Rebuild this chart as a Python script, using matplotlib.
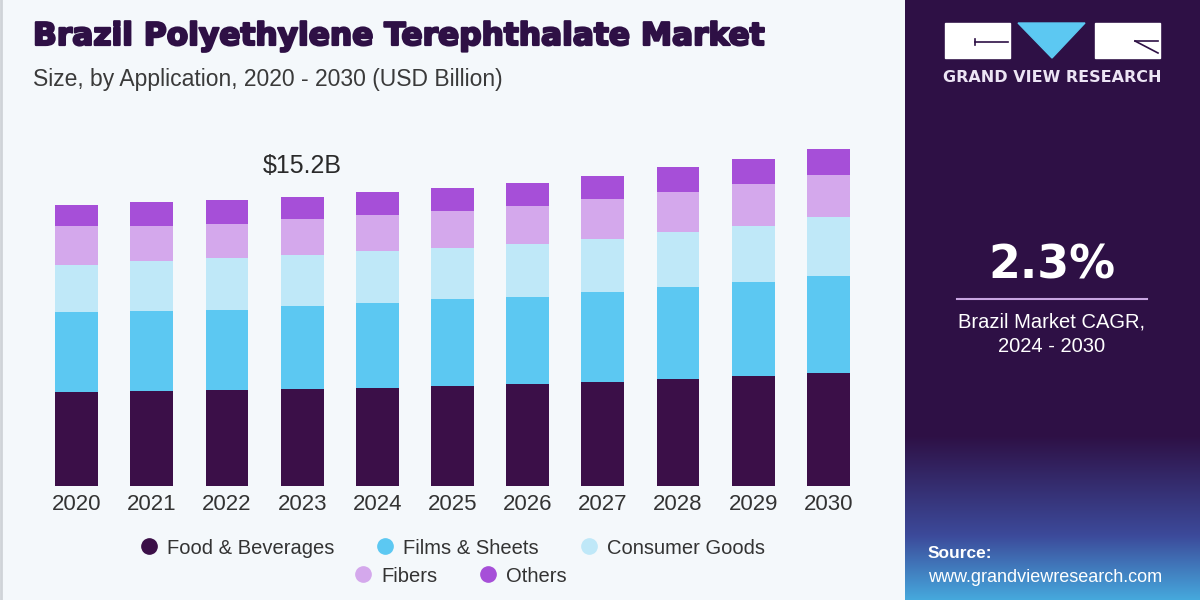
import numpy as np
import matplotlib
matplotlib.use("Agg")
import matplotlib.pyplot as plt
import matplotlib.patheffects as pe
from matplotlib.patches import Rectangle, Polygon
from matplotlib.lines import Line2D

# data (USD Billion)
years = ["2020", "2021", "2022", "2023", "2024", "2025",
         "2026", "2027", "2028", "2029", "2030"]
food = [4.94, 5.00, 5.05, 5.10, 5.16, 5.26, 5.37, 5.47, 5.63, 5.79, 5.94]
films = [4.21, 4.21, 4.21, 4.37, 4.47, 4.58, 4.58, 4.73, 4.84, 4.94, 5.10]
consumer = [2.47, 2.63, 2.74, 2.68, 2.74, 2.68, 2.79, 2.79, 2.89, 2.95, 3.10]
fibers = [2.05, 1.84, 1.79, 1.89, 1.89, 1.95, 2.00, 2.10, 2.10, 2.21, 2.21]
others = [1.10, 1.26, 1.26, 1.16, 1.21, 1.21, 1.21, 1.21, 1.32, 1.32, 1.37]
segments = ["Food & Beverages", "Films & Sheets", "Consumer Goods", "Fibers", "Others"]
colors = ["#3b0f48", "#5cc8f2", "#bfe8f8", "#d4a8ec", "#a64fd8"]
label_year = 3  # 2023
cagr = "2.3%"

plt.rcParams["font.family"] = ["Liberation Sans", "DejaVu Sans"]

fig = plt.figure(figsize=(12, 6), dpi=100)
fig.patch.set_facecolor("#f4f8fb")

# decoration layer in pixel coords
bg = fig.add_axes([0, 0, 1, 1], zorder=0)
bg.axis("off")

# right panel: dark purple fading to blue at the bottom
top = np.array([0x2e, 0x10, 0x45]) / 255
mid = np.array([0x3c, 0x4a, 0x9a]) / 255
bot = np.array([0x46, 0xaa, 0xde]) / 255
rows = []
for y in range(600):
    if y < 435:
        c = top
    elif y < 535:
        f = (y - 435) / 100
        c = top + (mid - top) * f
    else:
        f = (y - 535) / 65
        c = mid + (bot - mid) * f
    rows.append(c)
grad = np.array(rows).reshape(600, 1, 3)
bg.imshow(grad, extent=(905, 1200, 600, 0), aspect="auto")
bg.set_xlim(0, 1200)
bg.set_ylim(600, 0)
bg.plot([1, 1], [0, 600], color="#cfd3d8", lw=2)

# logo
bg.add_patch(Rectangle((945, 23), 65, 35, color="white"))
bg.add_patch(Polygon([(1018, 23), (1085, 23), (1052, 58)], color="#5cc8f2"))
bg.add_patch(Rectangle((1095, 23), 65, 35, color="white"))
bg.plot([975, 1008], [42, 42], color="#2e1045", lw=1.2)
bg.plot([975, 975], [39, 45], color="#2e1045", lw=1.2)
bg.plot([1135, 1158], [41, 41], color="#2e1045", lw=1.2)
bg.plot([1135, 1158], [41, 53], color="#2e1045", lw=1.2)
bg.text(1052, 78, "GRAND VIEW RESEARCH", color="#ece4f4", fontsize=11.5,
        fontweight="bold", ha="center", va="center", family="DejaVu Sans")

# CAGR block
bg.text(1052, 266, cagr, color="white", fontsize=33, fontweight="bold",
        ha="center", va="center", family="DejaVu Sans")
bg.plot([957, 1147], [299, 299], color="#c9a6e2", lw=1.5)
bg.text(1052, 322, "Brazil Market CAGR,", color="white", fontsize=14.5,
        ha="center", va="center")
bg.text(1052, 347, "2024 - 2030", color="white", fontsize=14.5,
        ha="center", va="center")

# source
bg.text(928, 553, "Source:", color="white", fontsize=12.5, fontweight="bold",
        ha="left", va="center")
bg.text(928, 577, "www.grandviewresearch.com", color="white", fontsize=13,
        ha="left", va="center")

# titles
fig.text(33 / 1200, 1 - 45 / 600, "Brazil Polyethylene Terephthalate Market",
         color="#2e1045", fontsize=22.5, fontweight="bold", family="DejaVu Sans",
         ha="left", va="baseline",
         path_effects=[pe.withStroke(linewidth=1.6, foreground="#2e1045")])
fig.text(33 / 1200, 1 - 86 / 600, "Size, by Application, 2020 - 2030 (USD Billion)",
         color="#3a3a3a", fontsize=16.5, ha="left", va="baseline")

# chart
ax = fig.add_axes([39 / 1200, 114 / 600, 827 / 1200, 342.2 / 600], zorder=1)
ax.set_facecolor("none")
x = np.arange(len(years))
bottom = np.zeros(len(years))
for vals, name, col in zip([food, films, consumer, fibers, others], segments, colors):
    ax.bar(x, vals, width=0.57, bottom=bottom, color=col, label=name)
    bottom = bottom + np.array(vals)

ax.annotate(f"${bottom[label_year]:.1f}B", xy=(label_year, bottom[label_year]),
            xytext=(0, 17), textcoords="offset points", ha="center", va="baseline",
            fontsize=18, color="#2a2a2a")

ax.set_xlim(-0.5, len(years) - 0.5)
ax.set_ylim(0, 18)
ax.set_xticks(x)
ax.set_xticklabels(years, fontsize=16, color="#333333")
ax.tick_params(axis="x", length=0, pad=6)
ax.set_yticks([])
for s in ax.spines.values():
    s.set_visible(False)

# legend: two centred rows
handles = [Line2D([], [], marker="o", linestyle="none", markersize=11,
                  markerfacecolor=c, markeredgecolor=c) for c in colors]
kw = dict(frameon=False, handletextpad=0.4, columnspacing=2.0,
          prop={"size": 14.5}, labelcolor="#333333", handlelength=1.0)
fig.legend(handles[:3], segments[:3], ncol=3, loc="center",
           bbox_to_anchor=(452 / 1200, 1 - 548 / 600), **kw)
fig.legend(handles[3:], segments[3:], ncol=2, loc="center",
           bbox_to_anchor=(460 / 1200, 1 - 576 / 600), **kw)

fig.savefig("out.png", dpi=100, facecolor=fig.get_facecolor())
